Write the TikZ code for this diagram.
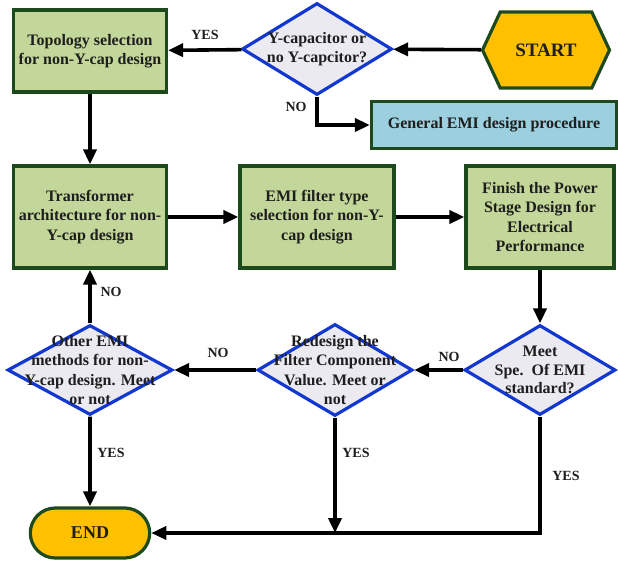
\documentclass[tikz,border=0pt]{standalone}
\usepackage{fontspec}
\setmainfont{Liberation Serif}
\usetikzlibrary{shapes.geometric,shapes.misc,shapes.symbols,arrows.meta}

\definecolor{boxgreen}{HTML}{C4D79B}
\definecolor{edgegreen}{HTML}{1D4A1D}
\definecolor{decfill}{HTML}{ECEAF1}
\definecolor{decblue}{HTML}{1238D0}
\definecolor{termgold}{HTML}{FFC000}
\definecolor{procblue}{HTML}{9DD0DE}
\definecolor{inktext}{HTML}{1E1E1E}

\tikzset{
  boxfont/.style={font=\fontsize{16}{19.5}\selectfont\bfseries, text=inktext},
  procbox/.style={rectangle, draw=edgegreen, fill=boxgreen, line width=3.2pt,
    align=center, inner sep=0pt, boxfont},
  blueproc/.style={procbox, fill=procblue},
  decbox/.style={diamond, draw=decblue, fill=decfill, line width=3.2pt,
    inner sep=0pt},
  dectext/.style={align=center, boxfont, inner sep=0pt},
  termhex/.style={signal, signal to=west and east, signal pointer angle=130,
    draw=edgegreen, fill=termgold, line width=3.2pt,
    font=\fontsize{19}{22}\selectfont\bfseries, text=inktext},
  termend/.style={rounded rectangle, draw=edgegreen, fill=termgold,
    line width=3.2pt, font=\fontsize{18}{22}\selectfont\bfseries, text=inktext},
  flow/.style={line width=3.6pt, -{Triangle[length=15pt,width=13pt]}},
  lbl/.style={font=\fontsize{14}{16}\selectfont\bfseries, text=inktext}
}

\begin{document}
\begin{tikzpicture}[x=1pt,y=-1pt]
  \useasboundingbox (0,0) rectangle (618,561);

  \node[termhex, minimum width=127pt, minimum height=76pt] (start) at (546,50) {START};

  \node[decbox, minimum width=150pt, minimum height=92pt,
    label={[dectext]center:Y-capacitor or\\no Y-capcitor?}] (ycap) at (317,49) {};

  \node[procbox, minimum width=153pt, minimum height=82pt] (topo) at (90,51)
    {Topology selection\\for non-Y-cap design};

  \node[blueproc, minimum width=245pt, minimum height=47pt] (general) at (494,125)
    {General EMI design procedure};

  \node[procbox, minimum width=153pt, minimum height=102pt] (trans) at (90,217)
    {Transformer\\architecture for non-\\Y-cap design};

  \node[procbox, minimum width=154pt, minimum height=102pt] (filt) at (317,217)
    {EMI filter type\\selection for non-Y-\\cap design};

  \node[procbox, minimum width=148pt, minimum height=102pt] (finish) at (540,217)
    {Finish the Power\\Stage Design for\\Electrical\\Performance};

  \node[decbox, minimum width=151pt, minimum height=90pt,
    label={[dectext, font=\fontsize{16}{18.5}\selectfont\bfseries]center:Meet\\Spe.\ \ Of EMI\\standard?}] (meet) at (540,370) {};

  \node[decbox, minimum width=155pt, minimum height=92pt,
    label={[dectext]center:Redesign the\\Filter Component\\Value. Meet or\\not}] (redesign) at (335,370) {};

  \node[decbox, minimum width=165pt, minimum height=90pt,
    label={[dectext]center:Other EMI\\methods for non-\\Y-cap design. Meet\\or not}] (other) at (90,370) {};

  \node[termend, minimum width=126pt, minimum height=50pt] (finale) at (90,533) {END};

  \coordinate (join) at (redesign |- finale);

  \draw[flow] (start) -- (ycap);
  \draw[flow] (ycap) -- (topo);
  \draw[flow] (ycap.south) |- (general);
  \draw[flow] (topo) -- (trans);
  \draw[flow] (trans) -- (filt);
  \draw[flow] (filt) -- (finish);
  \draw[flow] (finish) -- (meet);
  \draw[flow] (meet) -- (redesign);
  \draw[flow] (redesign) -- (other);
  \draw[flow] (other) -- (trans);
  \draw[flow] (other) -- (finale);
  \draw[flow] (redesign.south) -- (join);
  \draw[flow] (meet.south) |- (finale);

  \node[lbl] (yes1) at (205,35) {YES};
  \node[lbl] (no1) at (296,107) {NO};
  \node[lbl] (no2) at (111,292) {NO};
  \node[lbl] (no3) at (218,353) {NO};
  \node[lbl] (no4) at (449,357) {NO};
  \node[lbl] (yes2) at (111,453) {YES};
  \node[lbl] (yes3) at (356,453) {YES};
  \node[lbl] (yes4) at (566,476) {YES};
\end{tikzpicture}
\end{document}
